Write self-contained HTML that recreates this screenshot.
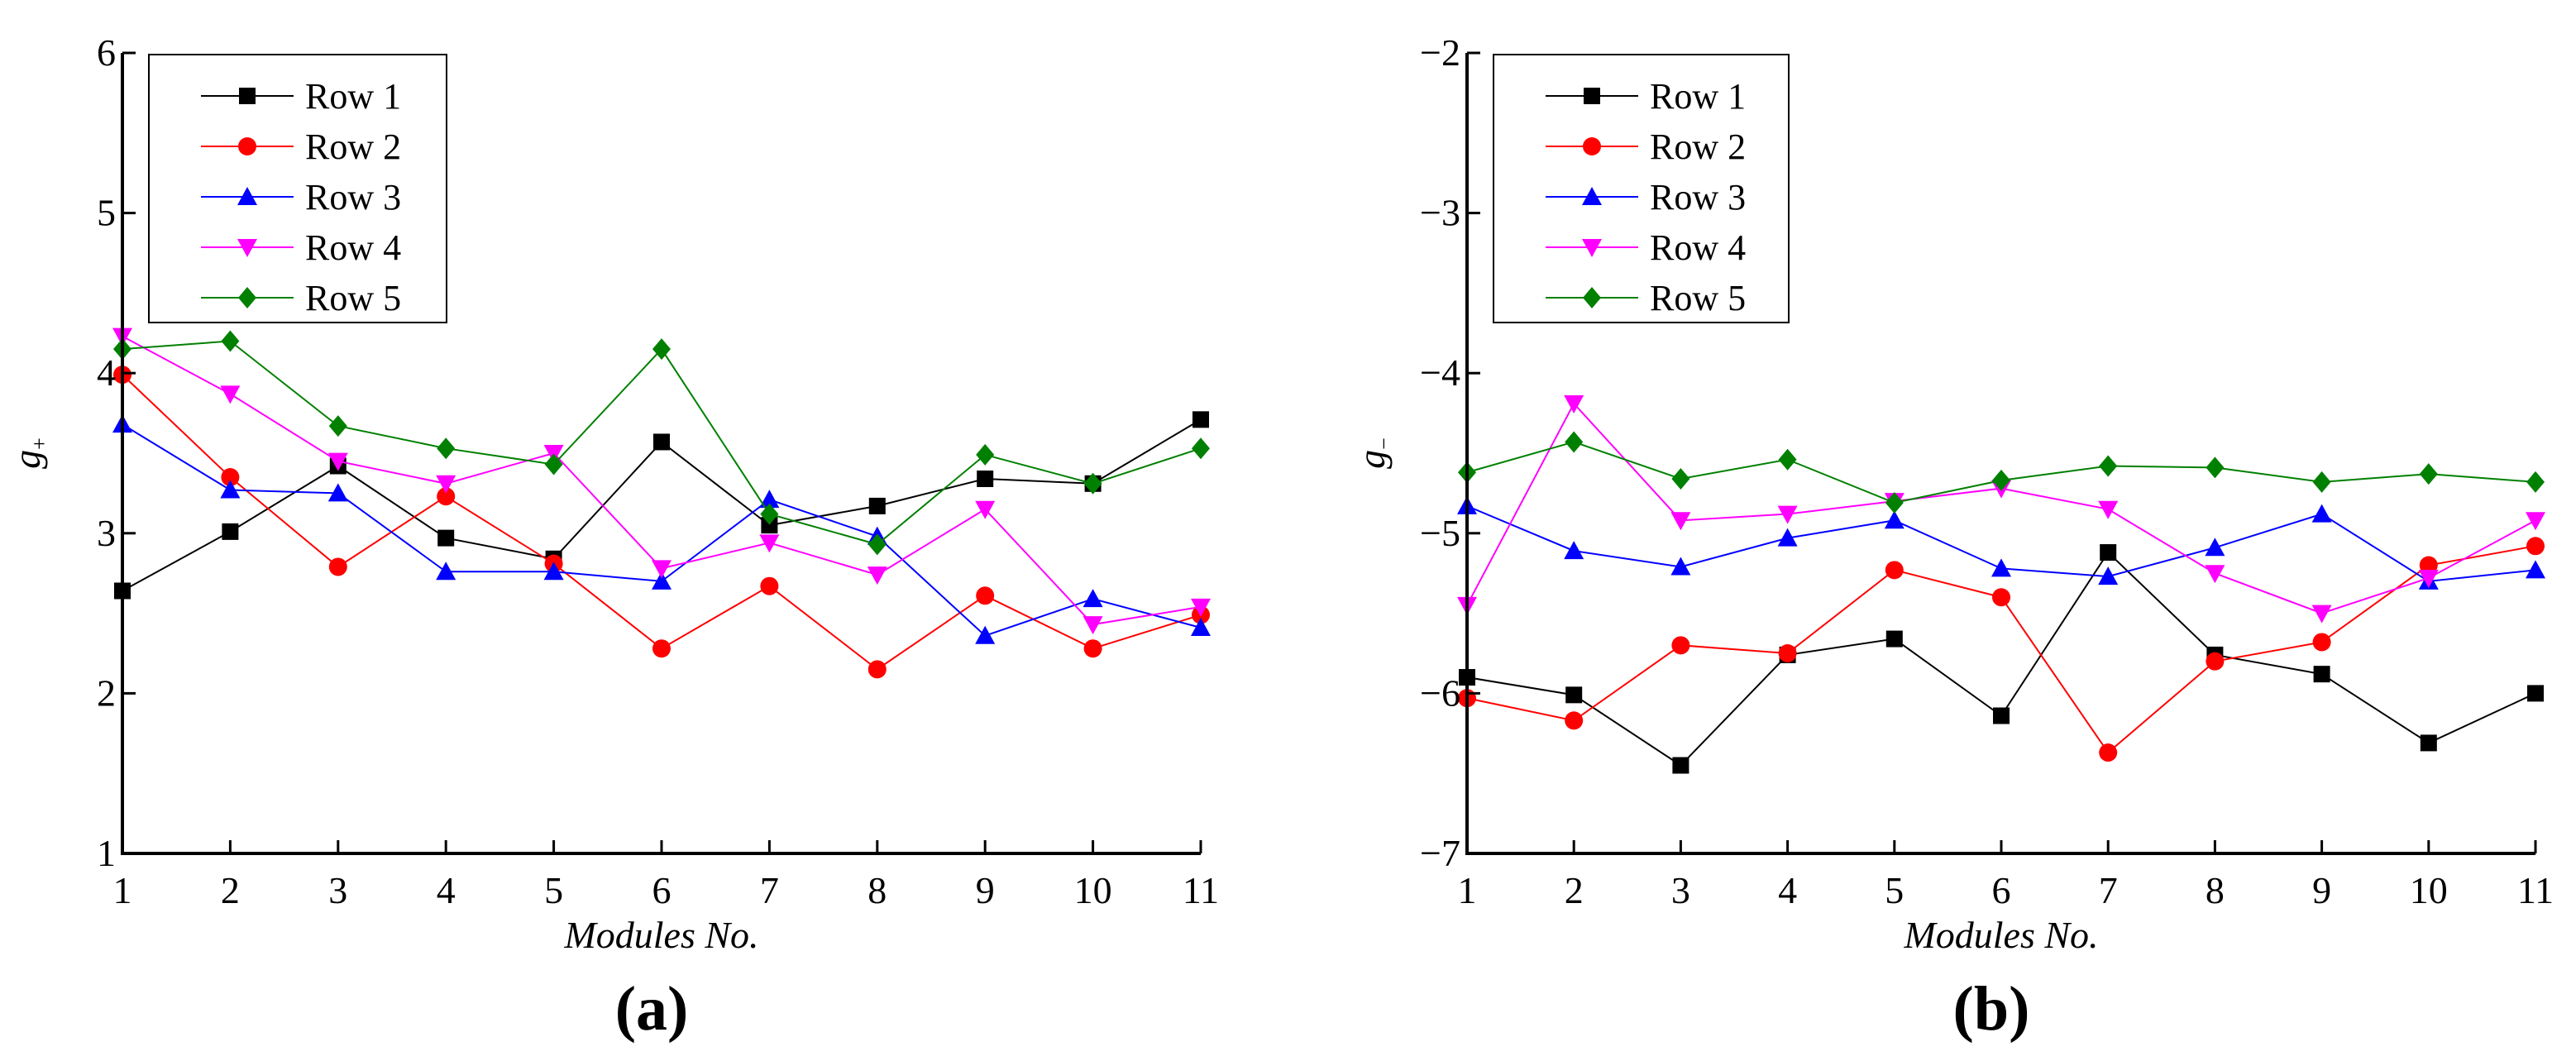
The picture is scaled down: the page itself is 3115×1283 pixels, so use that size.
<!DOCTYPE html>
<html><head><meta charset="utf-8"><style>
html,body{margin:0;padding:0;background:#fff;}
svg{display:block;}
svg text{font-family:"Liberation Serif","Times New Roman",serif !important;}
</style></head><body>
<svg id="fig" width="3115" height="1283" viewBox="0 0 3115 1283" xmlns="http://www.w3.org/2000/svg" font-family="Liberation Serif, serif"></svg>
<script>
const modules = [1,2,3,4,5,6,7,8,9,10,11];
const seriesNames = ["Row 1","Row 2","Row 3","Row 4","Row 5"];
const seriesColors = ["#000000","#ff0000","#0000ff","#ff00ff","#008000"];
const seriesMarkers = ["square","circle","up","down","diamond"];
const gPlusRow1 = [2.64,3.01,3.42,2.97,2.84,3.57,3.05,3.17,3.34,3.31,3.71];
const gPlusRow2 = [3.99,3.35,2.79,3.23,2.81,2.28,2.67,2.15,2.61,2.28,2.49];
const gPlusRow3 = [3.68,3.27,3.25,2.76,2.76,2.70,3.21,2.98,2.36,2.59,2.41];
const gPlusRow4 = [4.23,3.87,3.45,3.31,3.50,2.78,2.94,2.74,3.15,2.43,2.54];
const gPlusRow5 = [4.15,4.20,3.67,3.53,3.43,4.15,3.12,2.93,3.49,3.31,3.53];
const gMinusRow1 = [-5.90,-6.01,-6.45,-5.76,-5.66,-6.14,-5.12,-5.76,-5.88,-6.31,-6.00];
const gMinusRow2 = [-6.03,-6.17,-5.70,-5.75,-5.23,-5.40,-6.37,-5.80,-5.68,-5.20,-5.08];
const gMinusRow3 = [-4.83,-5.11,-5.21,-5.03,-4.92,-5.22,-5.27,-5.09,-4.88,-5.30,-5.23];
const gMinusRow4 = [-5.45,-4.19,-4.92,-4.88,-4.80,-4.72,-4.85,-5.25,-5.50,-5.28,-4.92];
const gMinusRow5 = [-4.62,-4.43,-4.66,-4.54,-4.81,-4.67,-4.58,-4.59,-4.68,-4.63,-4.68];
const yTicksA = [1,2,3,4,5,6];
const yTicksB = [-7,-6,-5,-4,-3,-2];
const yLabelsB = ["\u22127","\u22126","\u22125","\u22124","\u22123","\u22122"];

const NS="http://www.w3.org/2000/svg";
const svg=document.getElementById('fig');
const FF='Liberation Serif, serif';
function mk(tag,attrs,parent){const e=document.createElementNS(NS,tag);for(const k in attrs)e.setAttribute(k,attrs[k]);if(tag==='text')e.setAttribute('font-family',FF);(parent||svg).appendChild(e);return e;}

function marker(g,type,x,y,c){
  const s=10; let e;
  if(type==="square") e=mk('rect',{x:x-s,y:y-s,width:2*s,height:2*s,fill:c},g);
  else if(type==="circle") e=mk('circle',{cx:x,cy:y,r:s+1,fill:c},g);
  else if(type==="up") e=mk('polygon',{points:`${x},${y-s-2} ${x-s-2},${y+s} ${x+s+2},${y+s}`,fill:c},g);
  else if(type==="down") e=mk('polygon',{points:`${x},${y+s+2} ${x-s-2},${y-s} ${x+s+2},${y-s}`,fill:c},g);
  else e=mk('polygon',{points:`${x},${y-s-3} ${x+s+1},${y} ${x},${y+s+3} ${x-s-1},${y}`,fill:c},g);
  return e;
}

function panel(id,x0,x1,yTop,yBot,ymin,ymax,ticks,tickLabels,series,sub,panelLabel,lx0,lx1){
  const g=mk('g',{});
  
  
  const xs=v=>x0+(v-1)/(10)*(x1-x0);
  const ys=v=>yBot-(v-ymin)/(ymax-ymin)*(yBot-yTop);
  series.forEach((vals,i)=>{
    const sg=mk('g',{},g);
    
    
    const pts=vals.map((v,j)=>xs(modules[j])+','+ys(v)).join(' ');
    mk('polyline',{points:pts,fill:'none',stroke:seriesColors[i],'stroke-width':2},sg);
    vals.forEach((v,j)=>{const m=marker(sg,seriesMarkers[i],xs(modules[j]),ys(v),seriesColors[i]);
      
      });
  });
  const ax=mk('path',{d:`M${x0},${yTop} L${x0},${yBot} L${x1},${yBot}`,fill:'none',stroke:'#000','stroke-width':4},g);
  
  
  ticks.forEach((t,i)=>{
    const y=ys(t);
    mk('line',{x1:x0,y1:y,x2:x0+16,y2:y,stroke:'#000','stroke-width':3},g);
    const tx=mk('text',{x:x0-8,y:y+15,'font-size':46,'text-anchor':'end',fill:'#000'},g);
    tx.textContent=tickLabels[i];
    
    
  });
  modules.forEach(m=>{
    const x=xs(m);
    mk('line',{x1:x,y1:yBot,x2:x,y2:yBot-16,stroke:'#000','stroke-width':3},g);
    const tx=mk('text',{x:x,y:yBot+60,'font-size':46,'text-anchor':'middle',fill:'#000'},g);
    tx.textContent=m;
    
    
  });
  const xt=mk('text',{x:(x0+x1)/2,y:yBot+114,'font-size':46,'font-style':'italic','text-anchor':'middle'},g);
  xt.textContent='Modules No.';
  
  
  const yt=mk('text',{x:0,y:0,'font-size':46,'font-style':'italic','text-anchor':'middle',transform:`translate(${x0-100},${(yTop+yBot)/2}) rotate(-90)`},g);
  yt.textContent='g';
  const ts=mk('tspan',{'font-size':26,'font-style':'normal',dy:8},yt);
  ts.textContent=sub;
  
  
  const pl=mk('text',{x:(x0+x1)/2-12,y:1245,'font-size':76,'font-weight':'bold','text-anchor':'middle'},g);
  pl.textContent=panelLabel;
  
  
  const lg=mk('g',{},g);
  
  
  mk('rect',{x:lx0,y:66,width:lx1-lx0,height:324,fill:'#fff',stroke:'#000','stroke-width':2},lg);
  seriesNames.forEach((n,i)=>{
    const y=116+i*61;
    const eg=mk('g',{},lg);
    
    
    mk('line',{x1:lx0+63,y1:y,x2:lx0+175,y2:y,stroke:seriesColors[i],'stroke-width':2},eg);
    marker(eg,seriesMarkers[i],lx0+119,y,seriesColors[i]);
    const t=mk('text',{x:lx0+189,y:y+15,'font-size':44},eg);
    t.textContent=n;
  });
}
panel('panel-a-g-plus',148,1452,64,1032,1,6,yTicksA,yTicksA.map(String),
  [gPlusRow1,gPlusRow2,gPlusRow3,gPlusRow4,gPlusRow5],'+','(a)',180,540);
panel('panel-b-g-minus',1774,3066,64,1032,-7,-2,yTicksB,yLabelsB,
  [gMinusRow1,gMinusRow2,gMinusRow3,gMinusRow4,gMinusRow5],'\u2212','(b)',1806,2163);
</script>
</body></html>
